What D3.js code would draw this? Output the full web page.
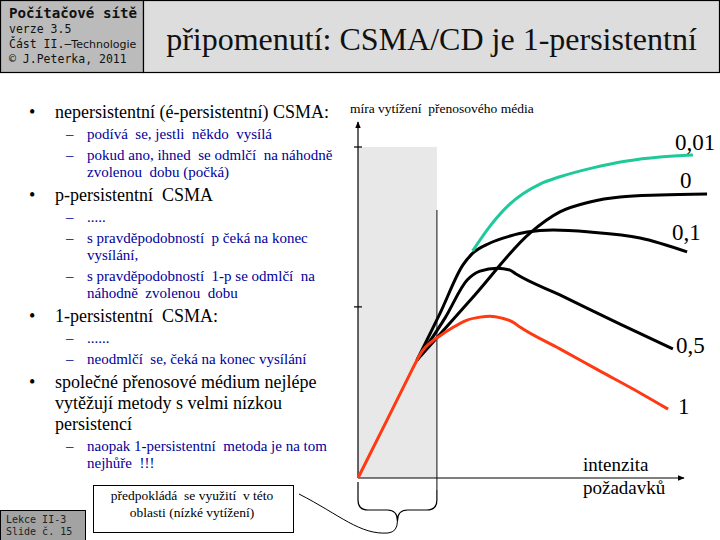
<!DOCTYPE html>
<html><head><meta charset="utf-8">
<script src="https://cdn.jsdelivr.net/npm/d3@7"></script>
<style>html,body{margin:0;padding:0;background:#fff;}svg{display:block;}</style>
</head><body>
<script>
// ---------- data ----------
const headerLines = ["Počítačové sítě", "verze 3.5", "Část II.–Technologie", "© J.Peterka, 2011"];
const titleText = "připomenutí: CSMA/CD je 1-persistentní";
const footerLines = ["Lekce II-3", "Slide č. 15"];

const bulletLevels = [1, 2, 2, 1, 2, 2, 2, 1, 2, 2, 1, 2];
const bulletTexts = [
  ["nepersistentní (é-persistentní) CSMA:"],
  ["podívá  se, jestli  někdo  vysílá"],
  ["pokud ano, ihned  se odmlčí  na náhodně", "zvolenou  dobu (počká)"],
  ["p-persistentní  CSMA"],
  ["....."],
  ["s pravděpodobností  p čeká na konec", "vysílání,"],
  ["s pravděpodobností  1-p se odmlčí  na", "náhodně  zvolenou  dobu"],
  ["1-persistentní  CSMA:"],
  ["......"],
  ["neodmlčí  se, čeká na konec vysílání"],
  ["společné přenosové médium nejlépe", "vytěžují metody s velmi nízkou", "persistencí"],
  ["naopak 1-persistentní  metoda je na tom", "nejhůře  !!!"]
];

const yAxisLabel = "míra vytížení  přenosového média";
const xAxisLabel = ["intenzita", "požadavků"];
const calloutText = ["předpokládá  se využití  v této", "oblasti (nízké vytížení)"];

const seriesNames = ["1", "0,5", "0", "0,1", "0,01"];
const seriesColors = ["#ff3a12", "#000000", "#000000", "#000000", "#1fc99a"];
// x = intenzita požadavků, y = míra vytížení (relative units 0..100)
const series1x  = [0, 9.0, 17.0, 18.3, 20.0, 22.5, 25.5, 29.2, 33.9, 37.9, 41.0, 44.7, 48.1, 50.3, 62.7, 75.2, 87.6, 96.3];
const series1y  = [0, 17.5, 33.1, 35.6, 38.4, 40.9, 43.0, 45.3, 47.7, 48.6, 48.9, 48.3, 47.1, 45.6, 39.0, 32.3, 25.7, 20.8];
const series05x = [18.3, 27.0, 33.9, 37.9, 43.2, 47.2, 49.1, 62.7, 81.4, 97.8];
const series05y = [35.6, 48.3, 59.8, 62.5, 63.4, 62.8, 61.6, 55.3, 46.5, 39.0];
const series0x  = [18.3, 36.3, 53.4, 62.7, 72.0, 81.4, 93.8, 108.4];
const series0y  = [35.6, 55.3, 74.0, 80.4, 83.4, 84.9, 85.5, 85.8];
const series01x = [18.3, 25.5, 32.6, 35.4, 41.0, 47.2, 52.5, 60.6, 72.0, 87.6, 102.2];
const series01y = [35.6, 49.8, 64.4, 67.7, 71.0, 73.1, 74.3, 74.9, 74.3, 72.5, 68.3];
const series001x = [35.6, 41.0, 47.2, 56.5, 62.7, 72.9, 83.5, 93.8, 104.0];
const series001y = [68.6, 76.1, 82.8, 88.8, 91.0, 93.7, 95.8, 97.0, 97.6];

const yTicks = [51.7, 100];
const lowLoadLimit = 24.5; // x extent of the shaded "low load" region

// ---------- drawing ----------
const W = 720, H = 540;
const svg = d3.select("body").append("svg").attr("width", W).attr("height", H);
const serif = "'Liberation Serif','Times New Roman',Times,serif";
const mono = "'DejaVu Sans Mono','Liberation Mono',monospace";

// header
svg.append("rect").attr("x", 0.5).attr("y", 0.5).attr("width", 143).attr("height", 72)
  .attr("fill", "#bbbbbb").attr("stroke", "#000").attr("stroke-width", 1.2);
svg.append("rect").attr("x", 143.5).attr("y", 0.5).attr("width", 576).attr("height", 72)
  .attr("fill", "#dddddd").attr("stroke", "#000").attr("stroke-width", 1.2);
svg.append("text").attr("x", 9).attr("y", 18).attr("font-family", mono).attr("font-weight", "bold")
  .attr("font-size", 14.2).attr("fill", "#111").text(headerLines[0]);
svg.append("text").attr("x", 9).attr("y", 33).attr("font-family", mono).attr("font-size", 11.5)
  .attr("fill", "#111").text(headerLines[1]);
const t3 = svg.append("text").attr("x", 9).attr("y", 48).attr("font-size", 11.5).attr("fill", "#111");
t3.append("tspan").attr("font-family", mono).text("Část II.–");
t3.append("tspan").attr("font-family", "'DejaVu Sans',Verdana,sans-serif").attr("font-size", 11).text("Technologie");
svg.append("text").attr("x", 9).attr("y", 63).attr("font-family", mono).attr("font-size", 11.5)
  .attr("fill", "#111").text(headerLines[3]);
svg.append("text").attr("x", 431.5).attr("y", 50).attr("text-anchor", "middle")
  .attr("font-family", serif).attr("font-size", 32).attr("fill", "#111").text(titleText);

// bullets
let yb = 118, prevLvl = null;
bulletTexts.forEach((lines, i) => {
  const lvl = bulletLevels[i];
  if (prevLvl !== null) yb += (lvl === 1 && prevLvl === 2) ? 24 : 21;
  const g = svg.append("g");
  if (lvl === 1) {
    g.append("text").attr("x", 29).attr("y", yb).attr("font-family", serif).attr("font-size", 18).text("•");
  } else {
    g.append("text").attr("x", 66).attr("y", yb).attr("font-family", serif).attr("font-size", 15).attr("fill", "#000099").text("–");
  }
  lines.forEach((ln, j) => {
    if (j > 0) yb += (lvl === 1 ? 21 : 17);
    g.append("text").attr("x", lvl === 1 ? 55 : 87).attr("y", yb)
      .attr("font-family", serif).attr("font-size", lvl === 1 ? 18 : 15)
      .attr("fill", lvl === 1 ? "#000" : "#000099")
      .style("white-space", "pre").text(ln);
  });
  prevLvl = lvl;
});

// chart
const x = d3.scaleLinear().domain([0, 100]).range([358, 680]);
const y = d3.scaleLinear().domain([0, 100]).range([478, 147]);

// shaded region
svg.append("rect").attr("x", x(0)).attr("y", y(100)).attr("width", x(lowLoadLimit) - x(0))
  .attr("height", y(0) - y(100)).attr("fill", "#e8e8e8");
svg.append("line").attr("x1", x(lowLoadLimit)).attr("x2", x(lowLoadLimit)).attr("y1", 210).attr("y2", 490)
  .attr("stroke", "#333").attr("stroke-width", 1.2);

// axes
const defs = svg.append("defs");
defs.append("marker").attr("id", "arr").attr("viewBox", "0 0 10 10").attr("refX", 9).attr("refY", 5)
  .attr("markerWidth", 6).attr("markerHeight", 6).attr("orient", "auto")
  .append("path").attr("d", "M0,1 L10,5 L0,9 Z").attr("fill", "#000");
svg.append("line").attr("x1", x(0)).attr("y1", y(0)).attr("x2", x(0)).attr("y2", 122)
  .attr("stroke", "#000").attr("stroke-width", 1.2).attr("marker-end", "url(#arr)");
svg.append("line").attr("x1", x(0)).attr("y1", y(0)).attr("x2", 684).attr("y2", y(0))
  .attr("stroke", "#000").attr("stroke-width", 1.2).attr("marker-end", "url(#arr)");
svg.selectAll(".yt").data(yTicks).enter().append("line")
  .attr("x1", x(0) - 4).attr("x2", x(0) + 4).attr("y1", d => y(d)).attr("y2", d => y(d))
  .attr("stroke", "#000").attr("stroke-width", 1.2);

svg.append("text").attr("x", 350).attr("y", 113).attr("font-family", serif).attr("font-size", 13.5)
  .style("white-space", "pre").text(yAxisLabel);
svg.append("text").attr("x", 583).attr("y", 471).attr("font-family", serif).attr("font-size", 19).text(xAxisLabel[0]);
svg.append("text").attr("x", 583).attr("y", 494).attr("font-family", serif).attr("font-size", 19).text(xAxisLabel[1]);

// curves
const allX = [series1x, series05x, series0x, series01x, series001x];
const allY = [series1y, series05y, series0y, series01y, series001y];
const line = d3.line().x(d => x(d[0])).y(d => y(d[1])).curve(d3.curveMonotoneX);
const order = [1, 2, 3, 4, 0];
order.forEach(k => {
  const pts = allX[k].map((v, i) => [v, allY[k][i]]);
  svg.append("path").attr("d", line(pts)).attr("fill", "none")
    .attr("stroke", seriesColors[k]).attr("stroke-width", 3).attr("stroke-linecap", "butt");
});

// curve labels (at end of each series)
const labelOffsets = [[10, 5], [3, 4], [-27, -6], [-15, -12], [-18, -5]];
seriesNames.forEach((nm, k) => {
  const n = allX[k].length - 1;
  svg.append("text").attr("x", x(allX[k][n]) + labelOffsets[k][0]).attr("y", y(allY[k][n]) + labelOffsets[k][1])
    .attr("font-family", serif).attr("font-size", 23).attr("fill", "#000").text(nm);
});

// brace below shaded region
const bx0 = x(0), bx1 = x(lowLoadLimit), bm = (bx0 + bx1) / 2;
svg.append("path").attr("d",
  `M${bx0},482 V500 Q${bx0},510 ${bx0 + 10},510 H${bm - 10} Q${bm},510 ${bm},521 Q${bm},510 ${bm + 10},510 H${bx1 - 10} Q${bx1},510 ${bx1},500 V490`)
  .attr("fill", "none").attr("stroke", "#000").attr("stroke-width", 1.2);
svg.append("path").attr("d", `M299,494 C340,515 360,535 388,533 Q${bm},532 ${bm},521`)
  .attr("fill", "none").attr("stroke", "#000").attr("stroke-width", 1);

// callout box
svg.append("rect").attr("x", 93.5).attr("y", 485.5).attr("width", 200).attr("height", 47)
  .attr("fill", "#fff").attr("stroke", "#000").attr("stroke-width", 1);
calloutText.forEach((t, i) => {
  svg.append("text").attr("x", 192).attr("y", 500 + i * 17).attr("text-anchor", "middle")
    .attr("font-family", serif).attr("font-size", 13.5).style("white-space", "pre").text(t);
});

// footer
svg.append("rect").attr("x", 0.5).attr("y", 510.5).attr("width", 85).attr("height", 30)
  .attr("fill", "#a3a3a3").attr("stroke", "#000").attr("stroke-width", 1);
footerLines.forEach((t, i) => {
  svg.append("text").attr("x", 6).attr("y", 523 + i * 12).attr("font-family", mono).attr("font-size", 10)
    .attr("fill", "#222").text(t);
});
</script>
</body></html>
